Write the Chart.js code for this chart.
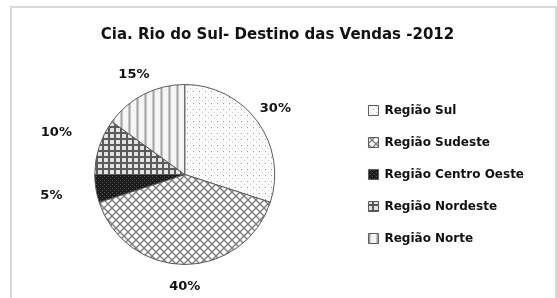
<!DOCTYPE html>
<html>
<head>
<meta charset="utf-8">
<script src="https://cdn.jsdelivr.net/npm/chart.js@4"></script>
<style>
html,body{margin:0;padding:0;background:#fff;}
#wrap{position:relative;width:557px;height:298px;overflow:hidden;}
#frame{position:absolute;left:10px;top:6px;width:543px;height:320px;border:2px solid #d9d9d9;}
canvas{position:absolute;left:0;top:0;}
</style>
</head>
<body>
<div id="wrap">
<div id="frame"></div>
<canvas id="pieChart" width="557" height="298"></canvas>
</div>
<script>
const titulo = "Cia. Rio do Sul- Destino das Vendas -2012";
const regioes = ["Região Sul","Região Sudeste","Região Centro Oeste","Região Nordeste","Região Norte"];
const percentuais = [30,40,5,10,15];
const rotulos = ["30%","40%","5%","10%","15%"];

const fonte = "'DejaVu Sans', Verdana, sans-serif";

// hachuras parecidas com as do Excel
function makePattern(kind){
const c = document.createElement("canvas");
const ctx = c.getContext("2d");
if(kind=="dots"){
c.width=6;c.height=6;
ctx.fillStyle="#fbfbfb";ctx.fillRect(0,0,6,6);
ctx.fillStyle="#9a9a9a";ctx.fillRect(1,1,1,1);
ctx.fillStyle="#d0d0d0";ctx.fillRect(4,4,1,1);
}
if(kind=="diamond"){
c.width=8;c.height=8;
ctx.fillStyle="#fafafa";ctx.fillRect(0,0,8,8);
ctx.strokeStyle="#7a7a7a";ctx.lineWidth=1.3;
ctx.beginPath();
ctx.moveTo(0,0);ctx.lineTo(8,8);
ctx.moveTo(8,0);ctx.lineTo(0,8);
ctx.stroke();
}
if(kind=="dark"){
c.width=4;c.height=4;
ctx.fillStyle="#1c1c1c";ctx.fillRect(0,0,4,4);
ctx.fillStyle="#555";ctx.fillRect(0,0,1,1);ctx.fillRect(2,2,1,1);
}
if(kind=="plaid"){
c.width=6;c.height=6;
ctx.fillStyle="#e2e2e2";ctx.fillRect(0,0,6,6);
ctx.fillStyle="#5a5a5a";
ctx.fillRect(0,0,6,2);ctx.fillRect(0,0,2,6);
}
if(kind=="stripes"){
c.width=8;c.height=2;
ctx.fillStyle="#f5f5f5";ctx.fillRect(0,0,8,2);
ctx.fillStyle="#c8c8c8";ctx.fillRect(0,0,3,2);
ctx.fillStyle="#a5a5a5";ctx.fillRect(1,0,1,2);
}
return ctx.createPattern(c,"repeat");
}

const fundos = [
makePattern("dots"),
makePattern("diamond"),
makePattern("dark"),
makePattern("plaid"),
makePattern("stripes")
];

const rotuloPlugin = {
id:"rotulos",
afterDatasetsDraw(chart){
const ctx = chart.ctx;
const meta = chart.getDatasetMeta(0);
ctx.save();
ctx.font = "bold 13px " + fonte;
ctx.fillStyle = "#111";
ctx.textBaseline = "middle";
ctx.textAlign = "center";
meta.data.forEach((arc,i)=>{
const p = arc.getProps(["x","y","startAngle","endAngle","outerRadius"],true);
const mid = (p.startAngle+p.endAngle)/2;
// rotulos do lado esquerdo ficam mais afastados
const r = p.outerRadius + (Math.cos(mid) < -0.6 ? 45 : 22);
ctx.fillText(rotulos[i], p.x + Math.cos(mid)*r, p.y + Math.sin(mid)*r);
});
ctx.restore();
}
};

new Chart(
document.getElementById("pieChart"),
{
type:"pie",
data:{
labels:regioes,
datasets:[{
data:percentuais,
backgroundColor:fundos,
borderColor:"#5a5a5a",
borderWidth:1
}]
},
options:{
responsive:false,
animation:false,
layout:{padding:{left:21,right:23,top:0,bottom:33}},
plugins:{
title:{
display:true,
text:titulo,
color:"#111",
font:{family:fonte,size:15,weight:"bold"},
padding:{top:26,bottom:40}
},
legend:{
position:"right",
align:"center",
fullSize:false,
labels:{
color:"#111",
boxWidth:10,
boxHeight:10,
padding:20,
font:{family:fonte,size:12,weight:"bold"}
}
},
tooltip:{enabled:false}
}
},
plugins:[rotuloPlugin]
}
);
</script>
</body>
</html>
